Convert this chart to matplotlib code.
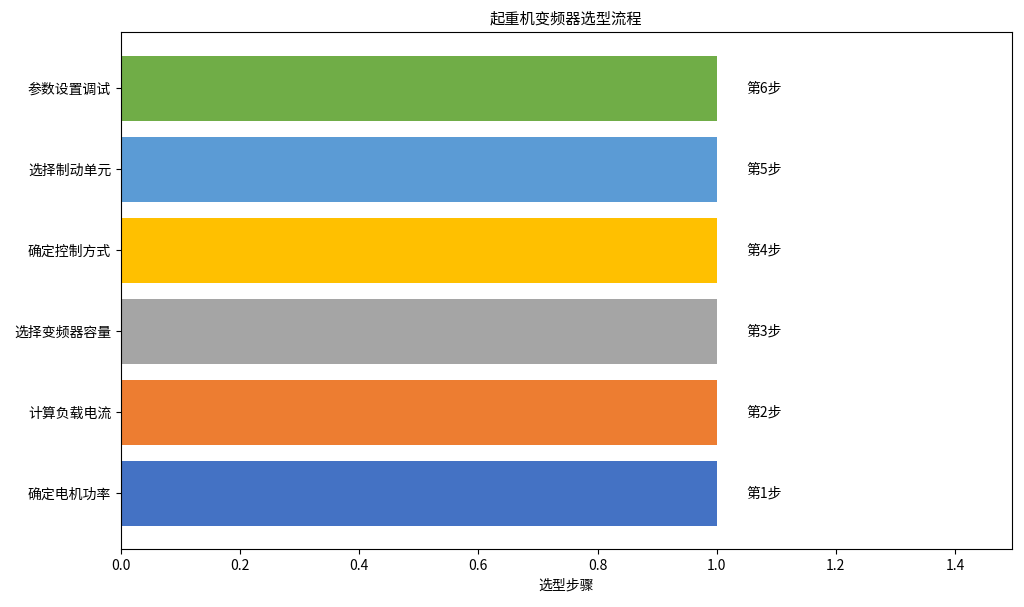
import matplotlib
matplotlib.use('Agg')
import matplotlib.pyplot as plt

plt.rcParams['font.family'] = ['Noto Sans CJK SC', 'DejaVu Sans']

steps = ['确定电机功率', '计算负载电流', '选择变频器容量', '确定控制方式', '选择制动单元', '参数设置调试']
values = [1, 1, 1, 1, 1, 1]
labels = ['第1步', '第2步', '第3步', '第4步', '第5步', '第6步']
colors = ['#4472C4', '#ED7D31', '#A5A5A5', '#FFC000', '#5B9BD5', '#70AD47']

fig, ax = plt.subplots(figsize=(10.24, 6.07), dpi=100)
fig.subplots_adjust(left=0.118, right=0.988, top=0.947, bottom=0.095)
bars = ax.barh(steps, values, color=colors, height=0.8)
for b, lab in zip(bars, labels):
    ax.text(b.get_width() + 0.05, b.get_y() + b.get_height() / 2, lab, va='center', fontsize=10)
ax.set_xlim(0, 1.495)
ax.set_xlabel('选型步骤', fontsize=10)
ax.set_title('起重机变频器选型流程', fontsize=11)
ax.tick_params(labelsize=10)
fig.savefig('out.png')
